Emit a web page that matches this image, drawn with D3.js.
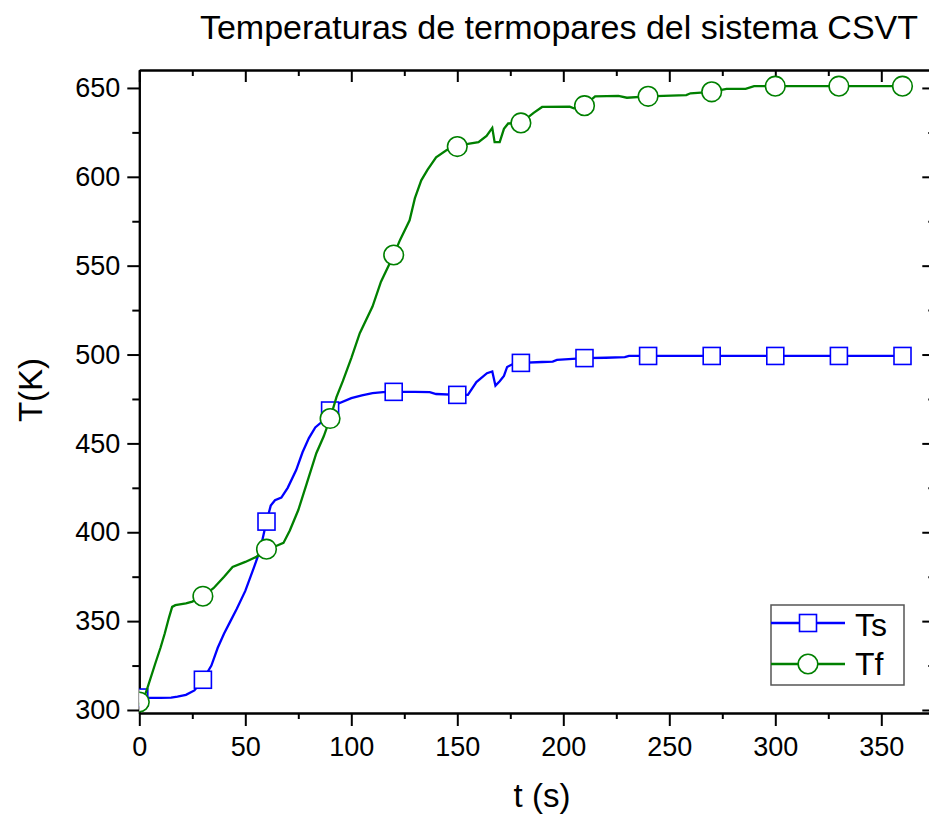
<!DOCTYPE html>
<html>
<head>
<meta charset="utf-8">
<script src="https://cdn.jsdelivr.net/npm/d3@7"></script>
<style>
  body { margin: 0; background: #fff; }
  svg { font-family: "Liberation Sans", Arial, sans-serif; }
</style>
</head>
<body>
<svg id="svg1" width="929" height="816"></svg>
<script>
// data (t in s, T in K)
var markerTimes = [0, 30, 60, 90, 120, 150, 180, 210, 240, 270, 300, 330, 360];
var tsMarks = [307, 317, 406, 468.5, 479, 477.3, 495.3, 498, 499.2, 499.2, 499.2, 499.2, 499.2];
var tfMarks = [304.5, 364, 390.5, 464, 556, 617, 630.3, 640, 645.3, 647.8, 651, 651, 651];

var tsCurve = [[0,307],[5,306.8],[10,306.8],[15,307],[18,307.5],[22,308.5],[26,311],[30,317],
  [34,325],[37,335],[40,343],[43,350],[46,357],[50,367],[54,380],[57,390],[60,406],[62,415],
  [64,418],[67,419.5],[70,425],[74,435],[77,445],[80,453],[83,459],[86,462],[90,468.5],
  [94,472.5],[100,475.5],[105,477],[110,478.3],[115,478.8],[120,479],[130,479],[137,478.8],
  [140,477.8],[150,477.3],[155,477.3],[159,484.5],[164,489.5],[166.5,490.5],[168,482.5],
  [170,485],[172,488],[173.5,493],[176,494.5],[180,495.3],[190,495.8],[195,496],[197,497],
  [210,498],[220,498.2],[229,498.5],[231,499.2],[240,499.2],[270,499.2],[300,499.2],[330,499.2],[360,499.2]];

var tfCurve = [[0,303],[2,306],[4,313],[7.5,326],[10,335],[12,343],[14,352],[15.5,358],[17,359],
  [22,360],[25,361],[30,364],[35,368.5],[40,375],[44,380.5],[50,383.3],[55,386],[60,390.5],
  [64,392],[68,394],[71,401],[75,412.5],[79,427.5],[83.5,444.5],[87,454],[90,464],[93,476],
  [96,485],[100,498],[104,512],[110,527],[114,541],[120,556],[123,564.5],[127.5,575.5],
  [130,588],[133,598],[136,604],[140,611],[145,615],[150,617],[155,618.5],[160,619.5],
  [163.8,623],[166.5,627.5],[167.6,619.5],[170,619.5],[172,627],[174,630],[180,630.3],
  [186,636],[190,639.3],[203,639.5],[205,638.5],[210,640],[215,645.3],[226,645.5],[230,644.5],
  [240,645.3],[258,646],[260,647],[270,647.8],[277,649.5],[286,649.5],[290,651],[300,651],
  [330,651],[360,651]];

var xMajor = [0, 50, 100, 150, 200, 250, 300, 350];
var xMinor = [25, 75, 125, 175, 225, 275, 325, 375];
var yMajor = [300, 350, 400, 450, 500, 550, 600, 650];
var yMinor = [325, 375, 425, 475, 525, 575, 625];

var plotLeft = 139.3, plotRight = 934.3, plotTop = 70, plotBottom = 713;

var svg = d3.select('svg');

var x = d3.scaleLinear().domain([0, 375]).range([plotLeft, plotRight]);
var y = d3.scaleLinear().domain([298.3, 660.1]).range([plotBottom, plotTop]);

svg.append('clipPath').attr('id', 'plot')
   .append('rect').attr('x', plotLeft).attr('y', plotTop)
   .attr('width', plotRight - plotLeft).attr('height', plotBottom - plotTop);

// axes
function styleAxis(g) {
  g.select('.domain').attr('stroke', '#000').attr('stroke-width', 2);
  g.selectAll('.tick line').attr('stroke', '#000').attr('stroke-width', 2);
  g.selectAll('.tick text').attr('fill', '#000').style('font-size', '27px')
   .style('font-family', '"Liberation Sans", Arial, sans-serif');
}

svg.append('g').attr('transform', 'translate(0,' + plotBottom + ')')
   .call(d3.axisBottom(x).tickValues(xMinor).tickSize(6).tickSizeOuter(0).tickFormat(''))
   .call(styleAxis);
svg.append('g').attr('transform', 'translate(0,' + plotBottom + ')')
   .call(d3.axisBottom(x).tickValues(xMajor).tickSize(13).tickSizeOuter(0).tickPadding(11))
   .call(styleAxis);

svg.append('g').attr('transform', 'translate(0,' + plotTop + ')')
   .call(d3.axisTop(x).tickValues(xMinor).tickSize(-6).tickSizeOuter(0).tickFormat(''))
   .call(styleAxis);
svg.append('g').attr('transform', 'translate(0,' + plotTop + ')')
   .call(d3.axisTop(x).tickValues(xMajor).tickSize(-12).tickSizeOuter(0).tickFormat(''))
   .call(styleAxis);

svg.append('g').attr('transform', 'translate(' + plotLeft + ',0)')
   .call(d3.axisLeft(y).tickValues(yMinor).tickSize(7).tickSizeOuter(0).tickFormat(''))
   .call(styleAxis);
svg.append('g').attr('transform', 'translate(' + plotLeft + ',0)')
   .call(d3.axisLeft(y).tickValues(yMajor).tickSize(12).tickSizeOuter(0).tickPadding(7))
   .call(styleAxis);

svg.append('g').attr('transform', 'translate(' + plotRight + ',0)')
   .call(d3.axisRight(y).tickValues(yMinor).tickSize(-6).tickSizeOuter(0).tickFormat(''))
   .call(styleAxis);
svg.append('g').attr('transform', 'translate(' + plotRight + ',0)')
   .call(d3.axisRight(y).tickValues(yMajor).tickSize(-12).tickSizeOuter(0).tickFormat(''))
   .call(styleAxis);

// series
var line = d3.line().x(function(d) { return x(d[0]); }).y(function(d) { return y(d[1]); });
var plot = svg.append('g').attr('clip-path', 'url(#plot)');

var blue = '#0000ff', green = '#008000';
var side = 17, rad = 9.8;

plot.append('path').datum(tsCurve).attr('d', line)
    .attr('fill', 'none').attr('stroke', blue).attr('stroke-width', 2.3);
plot.selectAll('rect.ts').data(markerTimes).enter().append('rect').attr('class', 'ts')
    .attr('x', function(d) { return x(d) - side / 2; })
    .attr('y', function(d, i) { return y(tsMarks[i]) - side / 2; })
    .attr('width', side).attr('height', side)
    .attr('fill', '#fff').attr('stroke', blue).attr('stroke-width', 1.6);

plot.append('path').datum(tfCurve).attr('d', line)
    .attr('fill', 'none').attr('stroke', green).attr('stroke-width', 2.3);
plot.selectAll('circle.tf').data(markerTimes).enter().append('circle').attr('class', 'tf')
    .attr('cx', function(d) { return x(d); })
    .attr('cy', function(d, i) { return y(tfMarks[i]); })
    .attr('r', rad)
    .attr('fill', '#fff').attr('stroke', green).attr('stroke-width', 1.6);

// legend
var lg = svg.append('g');
lg.append('rect').attr('x', 771).attr('y', 605).attr('width', 133).attr('height', 80)
  .attr('fill', '#fff').attr('stroke', '#555').attr('stroke-width', 1.5);
lg.append('line').attr('x1', 771).attr('x2', 845).attr('y1', 623).attr('y2', 623)
  .attr('stroke', blue).attr('stroke-width', 2.3);
lg.append('rect').attr('x', 808 - side / 2).attr('y', 623 - side / 2).attr('width', side).attr('height', side)
  .attr('fill', '#fff').attr('stroke', blue).attr('stroke-width', 1.6);
lg.append('line').attr('x1', 771).attr('x2', 845).attr('y1', 664).attr('y2', 664)
  .attr('stroke', green).attr('stroke-width', 2.3);
lg.append('circle').attr('cx', 808).attr('cy', 664).attr('r', rad)
  .attr('fill', '#fff').attr('stroke', green).attr('stroke-width', 1.6);
lg.append('text').attr('x', 855).attr('y', 636).style('font-size', '32px').text('Ts');
lg.append('text').attr('x', 855).attr('y', 675).style('font-size', '32px').text('Tf');

// titles
svg.append('text').attr('x', 559).attr('y', 39).attr('text-anchor', 'middle')
   .style('font-size', '34px').text('Temperaturas de termopares del sistema CSVT');
svg.append('text').attr('x', 542).attr('y', 807).attr('text-anchor', 'middle')
   .style('font-size', '33px').text('t (s)');
svg.append('text').attr('transform', 'translate(42,390) rotate(-90)').attr('text-anchor', 'middle')
   .style('font-size', '33px').text('T(K)');
</script>
</body>
</html>
